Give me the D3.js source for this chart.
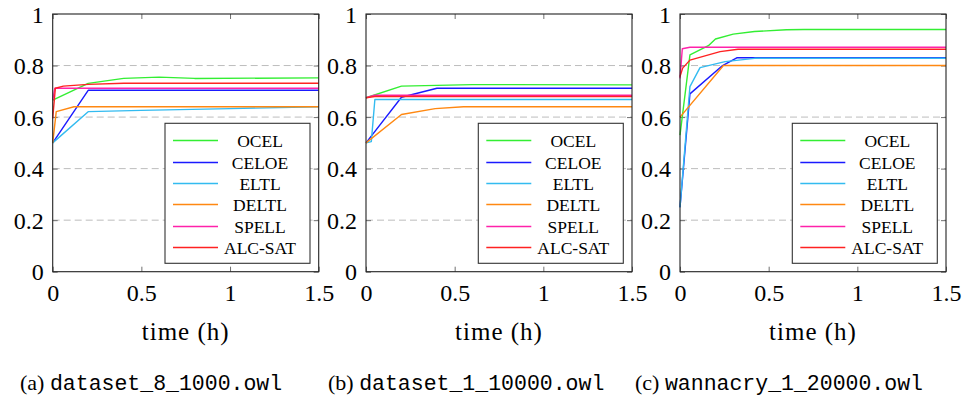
<!DOCTYPE html>
<html>
<head>
<meta charset="utf-8">
<script src="https://cdn.jsdelivr.net/npm/d3@7"></script>
<style>
  body { margin: 0; background: #fff; }
  svg { display: block; }
</style>
</head>
<body>
<svg id="chart" width="964" height="399"></svg>
<script>
// series, in legend order
var seriesNames = ["OCEL", "CELOE", "ELTL", "DELTL", "SPELL", "ALC-SAT"];
var seriesColors = ["#33ee33", "#1a1aff", "#33bbf0", "#ff8811", "#ff22aa", "#ff2222"];

var xTicks = [0, 0.5, 1, 1.5];
var yTicks = [0, 0.2, 0.4, 0.6, 0.8, 1];

// panel (a) dataset_8_1000.owl : [time (h), value]
var panelA = [
  [[0, 0.666], [0.2, 0.731], [0.4, 0.75], [0.6, 0.755], [0.8, 0.75], [1.5, 0.752]],
  [[0, 0.5], [0.2, 0.704], [1.5, 0.704]],
  [[0, 0.5], [0.2, 0.621], [0.5, 0.626], [1, 0.633], [1.5, 0.64]],
  [[0, 0.5], [0.02, 0.621], [0.12, 0.64], [1.5, 0.64]],
  [[0, 0.666], [0.012, 0.712], [1.5, 0.712]],
  [[0, 0.595], [0.015, 0.712], [0.06, 0.72], [0.2, 0.727], [0.4, 0.731], [1.5, 0.731]]
];

// panel (b) dataset_1_10000.owl
var panelB = [
  [[0, 0.675], [0.2, 0.72], [0.6, 0.726], [1.5, 0.725]],
  [[0, 0.5], [0.2, 0.677], [0.4, 0.712], [1.5, 0.712]],
  [[0, 0.5], [0.03, 0.505], [0.05, 0.668], [1.5, 0.668]],
  [[0, 0.5], [0.2, 0.61], [0.39, 0.633], [0.55, 0.64], [1.5, 0.64]],
  [[0, 0.675], [0.05, 0.685], [1.5, 0.685]],
  [[0, 0.675], [0.05, 0.68], [1.5, 0.68]]
];

// panel (c) wannacry_1_20000.owl
var panelC = [
  [[0, 0.53], [0.056, 0.841], [0.16, 0.877], [0.2, 0.903], [0.3, 0.922], [0.42, 0.932], [0.6, 0.939], [0.7, 0.94], [1.5, 0.94]],
  [[0, 0.25], [0.056, 0.69], [0.24, 0.8], [0.32, 0.83], [1.5, 0.83]],
  [[0, 0.25], [0.056, 0.718], [0.113, 0.792], [0.254, 0.815], [0.42, 0.828], [1.5, 0.828]],
  [[0, 0.6], [0.245, 0.8], [1.5, 0.8]],
  [[0, 0.75], [0.013, 0.865], [0.056, 0.871], [1.5, 0.871]],
  [[0, 0.757], [0.015, 0.79], [0.056, 0.821], [0.226, 0.854], [0.327, 0.863], [1.5, 0.863]]
];

var captionLetters = ["(a)", "(b)", "(c)"];
var captionFiles = ["dataset_8_1000.owl", "dataset_1_10000.owl", "wannacry_1_20000.owl"];

var panels = [
  { data: panelA, left: 52.7, capX: 20 },
  { data: panelB, left: 366, capX: 328 },
  { data: panelC, left: 680, capX: 635 }
];

var plotW = 266, plotTop = 14, plotBottom = 271.7;
var serif = "'Liberation Serif', 'Times New Roman', serif";

var svg = d3.select("#chart");

panels.forEach(function(p, pi) {
  var x = d3.scaleLinear().domain([0, 1.5]).range([p.left, p.left + plotW]);
  var y = d3.scaleLinear().domain([0, 1]).range([plotBottom, plotTop]);
  var g = svg.append("g");

  // dashed horizontal grid
  g.selectAll("line.grid")
      .data(yTicks.filter(function(v) { return v > 0 && v < 1; }))
    .enter().append("line")
      .attr("class", "grid")
      .attr("x1", x(0)).attr("x2", x(1.5))
      .attr("y1", function(d) { return y(d); })
      .attr("y2", function(d) { return y(d); })
      .attr("stroke", "#bdbdbd")
      .attr("stroke-width", 1)
      .attr("stroke-dasharray", "7,4");

  // ticks on all four sides, pointing inwards
  var fmt = d3.format("~g");
  var axB = g.append("g").attr("transform", "translate(0," + plotBottom + ")")
      .call(d3.axisBottom(x).tickValues(xTicks).tickSize(-5).tickPadding(12).tickFormat(fmt));
  var axT = g.append("g").attr("transform", "translate(0," + plotTop + ")")
      .call(d3.axisTop(x).tickValues(xTicks).tickSize(-5).tickFormat(""));
  var axL = g.append("g").attr("transform", "translate(" + x(0) + ",0)")
      .call(d3.axisLeft(y).tickValues(yTicks).tickSize(-5).tickPadding(9).tickFormat(fmt));
  var axR = g.append("g").attr("transform", "translate(" + x(1.5) + ",0)")
      .call(d3.axisRight(y).tickValues(yTicks).tickSize(-5).tickFormat(""));
  [axB, axT, axL, axR].forEach(function(a) {
    a.attr("font-family", null).attr("font-size", null);
    a.select(".domain").remove();
    a.selectAll(".tick line").attr("stroke", "#707070");
    a.selectAll(".tick text")
        .style("font-family", serif)
        .style("font-size", "24px")
        .attr("fill", "#000");
  });
  axB.selectAll(".tick text").attr("dy", "0.71em");
  axL.selectAll(".tick text").attr("dy", "0.34em");

  // series lines
  var line = d3.line()
      .x(function(d) { return x(d[0]); })
      .y(function(d) { return y(d[1]); });

  p.data.forEach(function(series, si) {
    g.append("path")
        .attr("d", line(series))
        .attr("fill", "none")
        .attr("stroke", seriesColors[si])
        .attr("stroke-width", 1.4)
        .attr("stroke-linejoin", "round");
  });

  // frame
  g.append("rect")
      .attr("x", x(0)).attr("y", plotTop)
      .attr("width", x(1.5) - x(0)).attr("height", plotBottom - plotTop)
      .attr("fill", "none")
      .attr("stroke", "#222")
      .attr("stroke-width", 1.1);

  // legend
  var lx = x(0) + 112.3, ly = 123.3, lw = 145, lh = 140;
  var legend = g.append("g");
  legend.append("rect")
      .attr("x", lx).attr("y", ly).attr("width", lw).attr("height", lh)
      .attr("fill", "#fff")
      .attr("stroke", "#333")
      .attr("stroke-width", 1.1);
  seriesNames.forEach(function(name, si) {
    var ry = Math.round(ly + 17 + si * 21.3) + 0.5;
    legend.append("line")
        .attr("x1", lx + 8).attr("x2", lx + 53)
        .attr("y1", ry).attr("y2", ry)
        .attr("stroke", seriesColors[si])
        .attr("stroke-width", 1.4);
    legend.append("text")
        .attr("x", lx + 95).attr("y", ry)
        .attr("dy", "0.35em")
        .attr("text-anchor", "middle")
        .style("font-family", serif)
        .style("font-size", "17.5px")
        .text(name);
  });

  // axis title
  g.append("text")
      .attr("x", x(0.75)).attr("y", 331.7)
      .attr("dy", "0.35em")
      .attr("text-anchor", "middle")
      .style("font-family", serif)
      .style("font-size", "25px")
      .style("letter-spacing", "1px")
      .text("time (h)");

  // caption
  var cap = g.append("text")
      .attr("x", p.capX).attr("y", 390);
  cap.append("tspan")
      .style("font-family", serif)
      .style("font-size", "22px")
      .text(captionLetters[pi] + " ");
  cap.append("tspan")
      .style("font-family", "'Liberation Mono', monospace")
      .style("font-size", "21.5px")
      .text(captionFiles[pi]);
});
</script>
</body>
</html>
